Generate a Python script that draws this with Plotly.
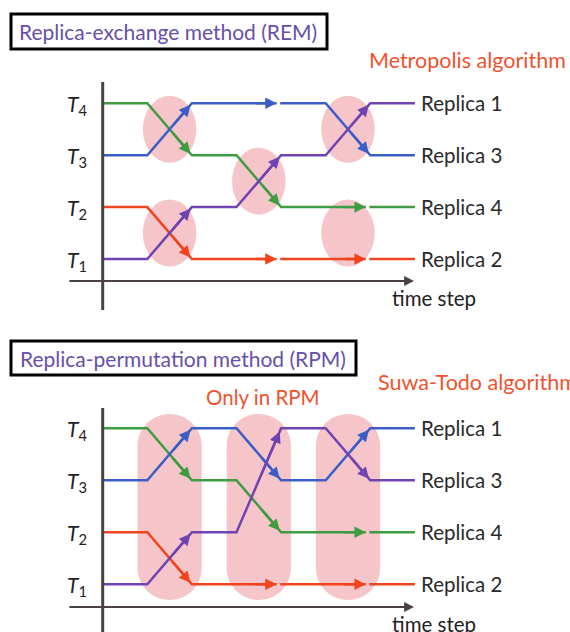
import plotly.graph_objects as go

# ---------------- data ----------------
stages = [0, 1, 2, 3]                      # exchange steps (0 = initial)
level_labels = ["T1", "T2", "T3", "T4"]
replica_end_labels = ["Replica 2", "Replica 4", "Replica 3", "Replica 1"]  # at T1..T4

rem_green = [4, 3, 2, 2]
rem_blue = [3, 4, 4, 3]
rem_red = [2, 1, 1, 1]
rem_purple = [1, 2, 3, 4]

rpm_green = [4, 3, 2, 2]
rpm_blue = [3, 4, 3, 4]
rpm_red = [2, 1, 1, 1]
rpm_purple = [1, 2, 4, 3]

rem_attempt_steps = [1, 1, 2, 3, 3]
rem_attempt_mid = [3.5, 1.5, 2.5, 3.5, 1.5]
rpm_attempt_steps = [1, 2, 3]

# ---------------- styles ----------------
GREEN = "#3f9c43"
BLUE = "#3b5ec6"
RED = "#f0441f"
PURPLE = "#7043b3"
PINK = "#f6c5ca"
AXIS = "#4a4240"
TITLE_C = "#6650aa"
ALG_C = "#f0522e"
FONT = "Lato"

W, H = 570, 632
X0, DX = 102.7, 44.6
xr = [-X0 / DX, (W - X0) / DX]
def yrange(py1, dy):
    return [1 - (H - py1) / dy, 1 + py1 / dy]
yr_top = yrange(259.0, 51.9)
yr_bot = yrange(584.3, 52.0)

fig = go.Figure()
annotations = []
shapes = []

def path_points(levels):
    xs, ys = [0], [levels[0]]
    for k in range(1, len(levels)):
        xs.append(2 * k - 1); ys.append(levels[k - 1])
        if levels[k] != levels[k - 1]:
            xs.append(2 * k); ys.append(levels[k])
        else:
            xs += [2 * k - 0.1, None, 2 * k - 0.02]
            ys += [levels[k], None, levels[k]]
    xs.append(2 * len(levels) - 1); ys.append(levels[-1])
    return xs, ys

def arrows(levels, color, yref):
    for k in range(1, len(levels)):
        a, b = levels[k - 1], levels[k]
        if a != b:
            f = 0.97
            tx, ty = 2 * k - 1 + f, a + (b - a) * f
            g = 0.55
            sx, sy = 2 * k - 1 + g, a + (b - a) * g
        else:
            tx, ty = 2 * k - 0.1, b
            sx, sy = 2 * k - 0.6, b
        annotations.append(dict(x=tx, y=ty, ax=sx, ay=sy, xref="x", yref=yref,
                                axref="x", ayref=yref, text="", showarrow=True,
                                arrowhead=2, arrowsize=0.95, arrowwidth=2.4,
                                arrowcolor=color, standoff=0))

panels = [
    ("y", [(rem_green, GREEN), (rem_blue, BLUE), (rem_red, RED), (rem_purple, PURPLE)]),
    ("y2", [(rpm_green, GREEN), (rpm_blue, BLUE), (rpm_red, RED), (rpm_purple, PURPLE)]),
]

# attempt regions
for s, m in zip(rem_attempt_steps, rem_attempt_mid):
    c = 2 * s - 0.5
    shapes.append(dict(type="circle", xref="x", yref="y", x0=c - 0.6, x1=c + 0.6,
                       y0=m - 0.645, y1=m + 0.645, fillcolor=PINK, line_width=0,
                       layer="below"))
k_ = 0.5523
for s in rpm_attempt_steps:
    c = 2 * s - 0.5
    rx = 0.72
    x0, x1 = c - rx, c + rx
    ry = 32.0 / 52.0
    yt, yb = 4.275, 0.698
    p = (f"M {x0},{yt-ry} C {x0},{yt-ry+k_*ry} {c-k_*rx},{yt} {c},{yt} "
         f"C {c+k_*rx},{yt} {x1},{yt-ry+k_*ry} {x1},{yt-ry} "
         f"L {x1},{yb+ry} C {x1},{yb+ry-k_*ry} {c+k_*rx},{yb} {c},{yb} "
         f"C {c-k_*rx},{yb} {x0},{yb+ry-k_*ry} {x0},{yb+ry} Z")
    shapes.append(dict(type="path", xref="x", yref="y2", path=p, fillcolor=PINK,
                       line_width=0, layer="below"))

for yref, series in panels:
    for levels, color in series:
        xs, ys = path_points(levels)
        fig.add_trace(go.Scatter(x=xs, y=ys, mode="lines", yaxis=yref,
                                 line=dict(color=color, width=2.5),
                                 hoverinfo="skip", showlegend=False))
        arrows(levels, color, yref)
    # level labels
    for i, lab in enumerate(level_labels):
        annotations.append(dict(x=-0.3, y=i + 1, xref="x", yref=yref, xanchor="right",
                                yanchor="middle", showarrow=False, yshift=-2,
                                text=f"<i>{lab[0]}</i><sub>{lab[1]}</sub>",
                                font=dict(family=FONT, size=21, color="#222")))
        annotations.append(dict(x=7.1, y=i + 1, xref="x", yref=yref, xanchor="left",
                                yanchor="middle", showarrow=False,
                                text=replica_end_labels[i],
                                font=dict(family=FONT, size=20.5, color="#2a2a2a")))

# axes (decorative)
for yref, ytop, ybot, yax in [("y", 4.41, 0.017, 0.576), ("y2", 4.39, 0.08, 0.563)]:
    shapes.append(dict(type="line", xref="x", yref=yref, x0=0, x1=0, y0=ytop, y1=ybot,
                       line=dict(color=AXIS, width=3)))
    annotations.append(dict(x=6.98, y=yax, ax=-0.78, ay=yax, xref="x", yref=yref,
                            axref="x", ayref=yref, text="", showarrow=True,
                            arrowhead=2, arrowsize=0.9, arrowwidth=2.2,
                            arrowcolor=AXIS, standoff=0))

def ptxt(px, py, text, size, color, xanchor="center"):
    annotations.append(dict(x=px / W, y=1 - py / H, xref="paper", yref="paper",
                            xanchor=xanchor, yanchor="middle", showarrow=False,
                            text=text, font=dict(family=FONT, size=size, color=color)))

def pbox(x0, y0, x1, y1):
    shapes.append(dict(type="rect", xref="paper", yref="paper", x0=x0 / W, x1=x1 / W,
                       y0=1 - y1 / H, y1=1 - y0 / H, line=dict(color="black", width=3),
                       fillcolor="rgba(0,0,0,0)"))

pbox(11, 14, 327, 49)
ptxt(168, 31, "Replica-exchange method (REM)", 21, TITLE_C)
ptxt(467, 60, "Metropolis algorithm", 21.5, ALG_C)
ptxt(434, 298, "time step", 20.5, "#222")

pbox(11, 341, 356, 375)
ptxt(183, 358, "Replica-permutation method (RPM)", 21, TITLE_C)
ptxt(376, 382, "Suwa-Todo algorithm", 21.5, ALG_C, xanchor="left")
ptxt(263, 397, "Only in RPM", 20.5, ALG_C)
ptxt(434, 624, "time step", 20.5, "#222")

fig.update_layout(
    width=W, height=H, margin=dict(l=0, r=0, t=0, b=0),
    paper_bgcolor="white", plot_bgcolor="white", showlegend=False,
    xaxis=dict(range=xr, visible=False, fixedrange=True),
    yaxis=dict(range=yr_top, visible=False, domain=[0, 1], fixedrange=True),
    yaxis2=dict(range=yr_bot, visible=False, overlaying="y", fixedrange=True),
    annotations=annotations, shapes=shapes,
)
fig.write_html("out.html", config={"displayModeBar": False},
               post_script="document.body.style.margin='0px';")
